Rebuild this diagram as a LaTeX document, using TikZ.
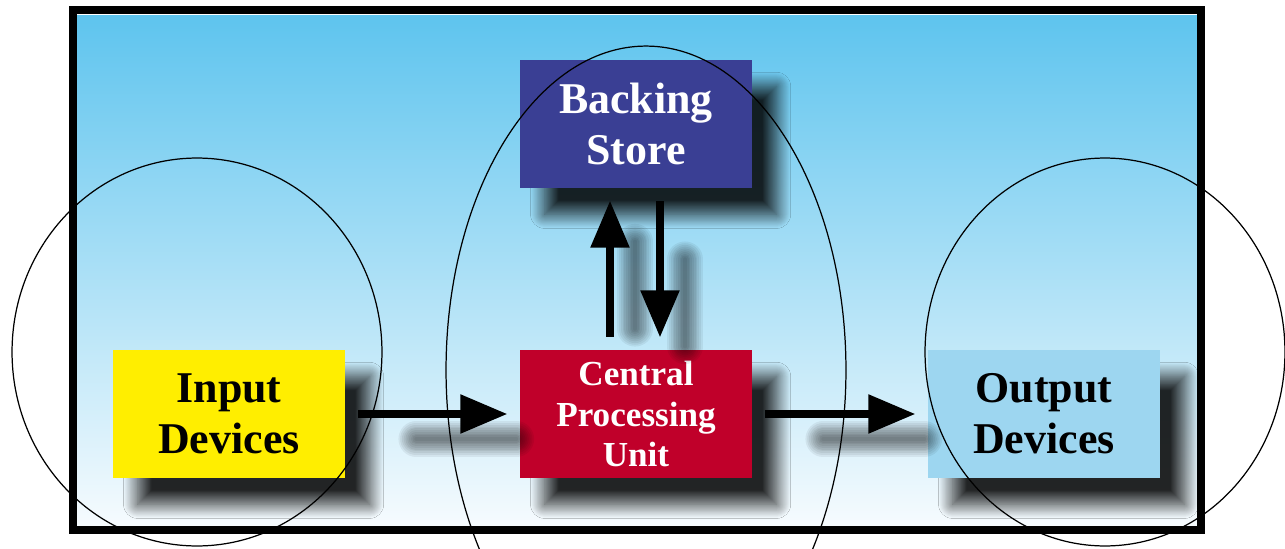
\documentclass[tikz,border=0pt]{standalone}
\usepackage{fontspec}
\setmainfont{Liberation Serif}
\usetikzlibrary{arrows.meta,shadows.blur}

\definecolor{skytop}{HTML}{5EC4EE}
\definecolor{skymid}{HTML}{A9DBF4}
\definecolor{skylow}{HTML}{F6FBFE}
\definecolor{storeblue}{HTML}{3A3F94}
\definecolor{cpured}{HTML}{C0002A}
\definecolor{inyellow}{HTML}{FFEE00}
\definecolor{outblue}{HTML}{9DD6F0}

\tikzset{
  unit/.style={
    rectangle,
    minimum width=4.64cm,
    minimum height=2.56cm,
    inner sep=2pt,
    text centered,
    align=center,
    font=\fontsize{25}{29}\selectfont\bfseries,
    blur shadow={shadow xshift=14pt, shadow yshift=-15pt,
      shadow blur radius=8pt, shadow blur steps=30, shadow opacity=85}
  },
  flow/.style={
    line width=5.1pt,
    -{Triangle[length=27pt,width=21pt]},
    shorten >=6.8pt,
    shorten <=7.4pt
  },
  flowshade/.style={
    line width=#1,
    black,
    opacity=0.06,
    line cap=round,
    shorten >=16pt,
    shorten <=26pt
  },
  ring/.style={
    line width=0.7pt
  },
}

\begin{document}
\begin{tikzpicture}[x=0.02cm, y=-0.02cm]
  \useasboundingbox (0,0) rectangle (1285,548);
  \fill[top color=skytop, middle color=skymid, bottom color=skylow] (77,15) rectangle (1197,526);
  \draw[line width=4.5pt] (73,10) rectangle (1201,530);

  \node[unit, fill=storeblue, text=white] (store) at (636,124) {Backing\\Store};
  \node[unit, fill=cpured, text=white, font=\fontsize{20}{23.3}\selectfont\bfseries] (cpu) at (636,414) {Central\\Processing\\Unit};
  \node[unit, fill=inyellow] (input) at (229,414) {Input\\Devices};
  \node[unit, fill=outblue] (output) at (1044,414) {Output\\Devices};

  \foreach \w in {2pt,4pt,...,20pt} {
    \draw[flowshade=\w] ([shift={(25,25)}]input.east) -- ([shift={(25,25)}]cpu.west);
    \draw[flowshade=\w] ([shift={(25,25)}]cpu.east) -- ([shift={(25,25)}]output.west);
    \draw[flowshade=\w] ([shift={(-1,25)}]cpu.north) -- ([shift={(-1,25)}]store.south);
    \draw[flowshade=\w] ([shift={(49,25)}]store.south) -- ([shift={(49,25)}]cpu.north);
  }

  \draw[flow] (input) -- (cpu);
  \draw[flow] (cpu) -- (output);
  \draw[flow] ([xshift=-0.52cm]cpu.north) -- ([xshift=-0.52cm]store.south);
  \draw[flow] ([xshift=0.48cm]store.south) -- ([xshift=0.48cm]cpu.north);

  \draw[ring] (197,352) ellipse [x radius=3.7cm, y radius=3.88cm];
  \draw[ring] (646,370) ellipse [x radius=4cm, y radius=6.48cm];
  \draw[ring] (1105,352) ellipse [x radius=3.6cm, y radius=3.88cm];
\end{tikzpicture}
\end{document}
